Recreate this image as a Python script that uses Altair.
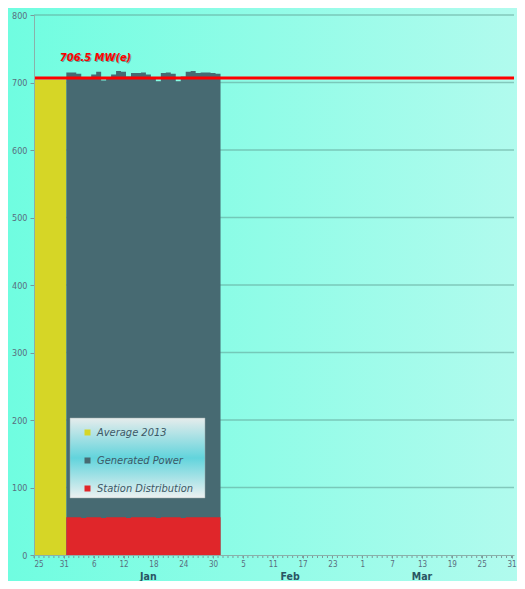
import json
import altair as alt
import pandas as pd

# ---------------- data ----------------
series_names = ["Average 2013", "Generated Power", "Station Distribution"]
series_colors = ["#d6d626", "#476a72", "#e0262a"]

# daily values, Jan 1 .. Jan 31 (MW)
generated = [715, 715, 713, 708, 706, 712, 716, 703, 707, 712, 717, 716, 709, 714, 714,
             715, 712, 708, 702, 714, 715, 713, 702, 709, 716, 717, 714, 715, 715, 714, 713]
station = [56, 56, 56, 55, 56, 56, 56, 55, 56, 56, 56, 56, 55, 56, 56,
           56, 56, 56, 55, 56, 56, 56, 56, 55, 56, 56, 56, 56, 56, 56, 56]
average_2013 = 704
reference_value = 706.5
reference_label = "706.5 MW(e)"

y_ticks = [0, 100, 200, 300, 400, 500, 600, 700, 800]
# x axis: day index, 0 = Dec 25, labelled every 6 days
tick_days = [0, 6, 12, 18, 24, 30, 36, 42, 48, 54, 60, 66, 72, 78, 84, 90, 96]
tick_labels = ["25", "31", "6", "12", "18", "24", "30", "5", "11", "17", "23",
               "1", "7", "13", "19", "25", "31"]
month_labels = ["Jan", "Feb", "Mar"]

# ---------------- layout ----------------
W, H = 480, 540
X_MAX = 96.5
first_day = 6.5          # start of Jan 1 on day-index axis
avg_start = 0
month_pos = [23, 51.5, 78]
label_day = 5.2
FONT = "Liberation Sans Narrow, DejaVu Sans Condensed, Liberation Sans, Arial"

xs = alt.Scale(domain=[0, X_MAX], nice=False, zero=False)
ys = alt.Scale(domain=[0, 800], nice=False)
color_scale = alt.Scale(domain=series_names, range=series_colors)

label_map = "{" + ",".join(f'"{d}":{json.dumps(l)}' for d, l in zip(tick_days, tick_labels)) + "}"
axis_x = alt.Axis(values=tick_days, labelExpr=label_map + "[datum.value]",
                  labelOverlap=False, title=None, grid=False, tickSize=3, tickColor="#7a9a9a",
                  domainColor="#8ab0aa", labelFontSize=8, labelColor="#5a6e7e", labelPadding=2,
                  labelFont=FONT, zindex=1)
axis_y = alt.Axis(values=y_ticks, title=None, grid=False, tickSize=4, tickColor="#7a9a9a",
                  domainColor="#8ab0aa", labelFontSize=9, labelColor="#5a6e7e", labelPadding=3,
                  labelOverlap=False, labelFont=FONT, zindex=1)

def X(field):
    return alt.X(field, scale=xs, axis=axis_x)

def Y(field):
    return alt.Y(field, scale=ys, axis=axis_y)

def step_frame(vals, name):
    xs_ = [first_day + i for i in range(len(vals))] + [first_day + len(vals)]
    ys_ = list(vals) + [vals[-1]]
    return pd.DataFrame({"day": xs_, "mw": ys_, "series": name})

gen_df = step_frame(generated, series_names[1])
sta_df = step_frame(station, series_names[2])
avg_df = pd.DataFrame({"x0": [avg_start], "x1": [first_day], "mw": [average_2013],
                       "series": [series_names[0]]})

bg = alt.Chart(alt.Data(values=[{}])).mark_rect(
    fill=alt.LinearGradient(gradient="linear",
                            stops=[alt.GradientStop(color="#6ffde0", offset=0),
                                   alt.GradientStop(color="#b2fbee", offset=1)],
                            x1=0, x2=1, y1=0, y2=0)
).encode(x=alt.value(-30), x2=alt.value(W + 10), y=alt.value(-10), y2=alt.value(H + 40))

grid = alt.Chart(pd.DataFrame({"mw": y_ticks[1:]})).mark_rule(
    color="#5f9f94", opacity=0.55, strokeWidth=1.5
).encode(y=Y("mw:Q"))

minor = alt.Chart(pd.DataFrame({"day": list(range(0, 97))})).mark_rule(
    color="#7a9a9a", strokeWidth=1
).encode(x=X("day:Q"), y=alt.value(H), y2=alt.value(H + 3))

legend = alt.Legend(orient="none", legendX=48, legendY=412, title=None, symbolType="square",
                    symbolSize=36, labelFontSize=11, labelFontStyle="italic", labelColor="#3d5866",
                    labelFont=FONT, rowPadding=16, padding=0, symbolStrokeWidth=0)

avg_bar = alt.Chart(avg_df).mark_rect().encode(
    x=X("x0:Q"), x2="x1:Q", y=Y("mw:Q"), y2=alt.datum(0),
    color=alt.Color("series:N", scale=color_scale, legend=legend))

gen_area = alt.Chart(gen_df).mark_area(interpolate="step-after").encode(
    x=X("day:Q"), y=Y("mw:Q"),
    color=alt.Color("series:N", scale=color_scale, legend=legend))

sta_area = alt.Chart(sta_df).mark_area(interpolate="step-after").encode(
    x=X("day:Q"), y=Y("mw:Q"),
    color=alt.Color("series:N", scale=color_scale, legend=legend))

legend_bg = alt.Chart(alt.Data(values=[{}])).mark_rect(
    fill=alt.LinearGradient(gradient="linear",
                            stops=[alt.GradientStop(color="#e6ecec", offset=0),
                                   alt.GradientStop(color="#62d4dc", offset=0.5),
                                   alt.GradientStop(color="#eef1f1", offset=1)],
                            x1=0, x2=0, y1=0, y2=1),
    stroke="#9aa8a8", strokeWidth=0.5
).encode(x=alt.value(36), x2=alt.value(171), y=alt.value(403), y2=alt.value(483))

ref_df = pd.DataFrame({"mw": [reference_value], "label": [reference_label], "day": [label_day]})
ref_rule = alt.Chart(ref_df).mark_rule(color="#ff0000", strokeWidth=3).encode(y=Y("mw:Q"))
ref_shadow = alt.Chart(ref_df).mark_text(
    align="left", baseline="alphabetic", dx=1, dy=-16, fontSize=11, fontWeight="bold",
    fontStyle="italic", color="#333333", opacity=0.45, font=FONT
).encode(x=X("day:Q"), y=Y("mw:Q"), text="label:N")
ref_text = alt.Chart(ref_df).mark_text(
    align="left", baseline="alphabetic", dy=-17, fontSize=11, fontWeight="bold",
    fontStyle="italic", color="#ff0000", font=FONT
).encode(x=X("day:Q"), y=Y("mw:Q"), text="label:N")

month_df = pd.DataFrame({"day": month_pos, "label": month_labels})
months = alt.Chart(month_df).mark_text(
    baseline="middle", fontSize=10.5, fontWeight="bold", color="#2a5563", font=FONT
).encode(x=X("day:Q"), y=alt.value(H + 22), text="label:N")

chart = alt.layer(bg, grid, avg_bar, gen_area, sta_area, legend_bg, minor,
                  ref_rule, ref_shadow, ref_text, months).properties(
    width=W, height=H, padding={"left": 26, "top": 7, "right": 3, "bottom": 26},
    autosize=alt.AutoSizeParams(type="none"), background="#8ffde6"
).configure_view(stroke=None).configure_axis(labelOverlap=False)

chart.save("out.html", embed_options={"renderer": "svg", "actions": False})
